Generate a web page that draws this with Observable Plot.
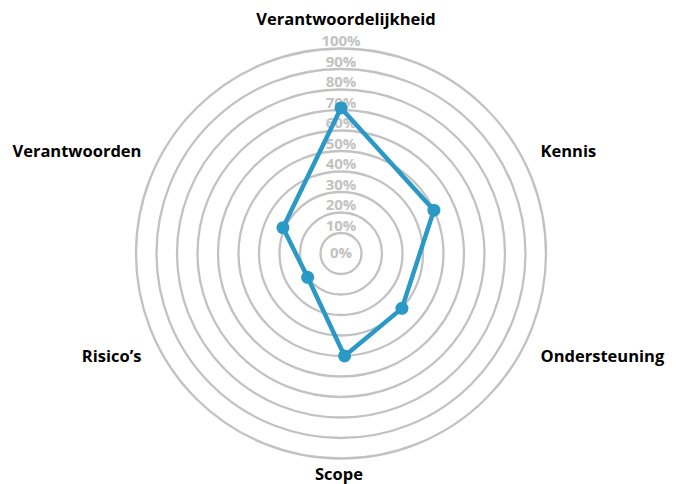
<!DOCTYPE html>
<html>
<head>
<meta charset="utf-8">
<script src="https://cdn.jsdelivr.net/npm/d3@7"></script>
<script src="https://cdn.jsdelivr.net/npm/@observablehq/plot@0.6"></script>
<style>
  html, body { margin: 0; padding: 0; background: #fff; }
  #chart svg { display: block; }
</style>
</head>
<body>
<div id="chart"></div>
<script>
// ---- data ----
const axes = ["Verantwoordelijkheid", "Kennis", "Ondersteuning", "Scope", "Risico’s", "Verantwoorden"];
const scores = [71, 50, 40, 50, 20, 31];
const ringTicks = [10, 20, 30, 40, 50, 60, 70, 80, 90, 100];
const centerTick = [0];

// ---- layout (scales) ----
const spokeAngle = d3.scaleOrdinal(axes, [0, 65, 132, 178, 234.5, 294]);
const labelAngle = d3.scaleOrdinal(axes, [0, 60, 120, 180, 240, 300]);
const rad = a => a * Math.PI / 180;

const points = axes.map((axis, i) => ({axis, value: scores[i]}));
const px = d => d.value * Math.sin(rad(spokeAngle(d.axis)));
const py = d => d.value * Math.cos(rad(spokeAngle(d.axis)));

const labels = axes.map(axis => ({axis, a: labelAngle(axis)}));
const lx = d => 100 * Math.sin(rad(d.a));
const ly = d => 100 * Math.cos(rad(d.a));
const side = d => {
  const s = Math.sin(rad(d.a));
  if (Math.abs(s) < 1e-6) return Math.cos(rad(d.a)) > 0 ? "top" : "bottom";
  return s > 0 ? "right" : "left";
};

const FONT = "'Open Sans', Lato, sans-serif";
const BLUE = "#2a99c5";
const GRID = "#c2c2c2";
const TICK = "#c2c2c2";
const LABEL_SIZE = 16.5;

const chart = Plot.plot({
  width: 678,
  height: 484,
  marginLeft: 135.5,
  marginRight: 132.5,
  marginTop: 48,
  marginBottom: 26,
  x: {domain: [-100, 100], axis: null},
  y: {domain: [-100, 100], axis: null},
  r: {type: "linear", domain: [0, 100], range: [0, 205]},
  style: {fontFamily: FONT, background: "#fff", overflow: "visible"},
  marks: [
    Plot.dot(ringTicks, {x: () => 0, y: () => 0, r: d => d, fill: "none", stroke: GRID, strokeWidth: 2.3}),
    Plot.text(ringTicks, {x: () => 0, y: d => d, text: d => d + "%", lineAnchor: "bottom", dy: -2.5, fill: TICK, fontWeight: "bold", fontSize: 15}),
    Plot.text(centerTick, {x: () => 0, y: d => d, text: d => d + "%", lineAnchor: "middle", fill: TICK, fontWeight: "bold", fontSize: 15}),
    Plot.line(points, {x: px, y: py, curve: "linear-closed", stroke: BLUE, strokeWidth: 4.5, strokeLinejoin: "round"}),
    Plot.dot(points, {x: px, y: py, r: 6.5, fill: BLUE, stroke: "none"}),
    Plot.text(labels.filter(d => side(d) === "top"), {x: lx, y: ly, text: "axis", lineAnchor: "bottom", dy: -24, dx: 5, fill: "#000", fontWeight: "bold", fontSize: LABEL_SIZE}),
    Plot.text(labels.filter(d => side(d) === "bottom"), {x: lx, y: ly, text: "axis", lineAnchor: "top", dy: 10, dx: -2, fill: "#000", fontWeight: "bold", fontSize: LABEL_SIZE}),
    Plot.text(labels.filter(d => side(d) === "right"), {x: lx, y: ly, text: "axis", textAnchor: "start", dx: 22, dy: 1, fill: "#000", fontWeight: "bold", fontSize: LABEL_SIZE}),
    Plot.text(labels.filter(d => side(d) === "left"), {x: lx, y: ly, text: "axis", textAnchor: "end", dx: -22, dy: 1, fill: "#000", fontWeight: "bold", fontSize: LABEL_SIZE})
  ]
});
document.getElementById("chart").appendChild(chart);
</script>
</body>
</html>
